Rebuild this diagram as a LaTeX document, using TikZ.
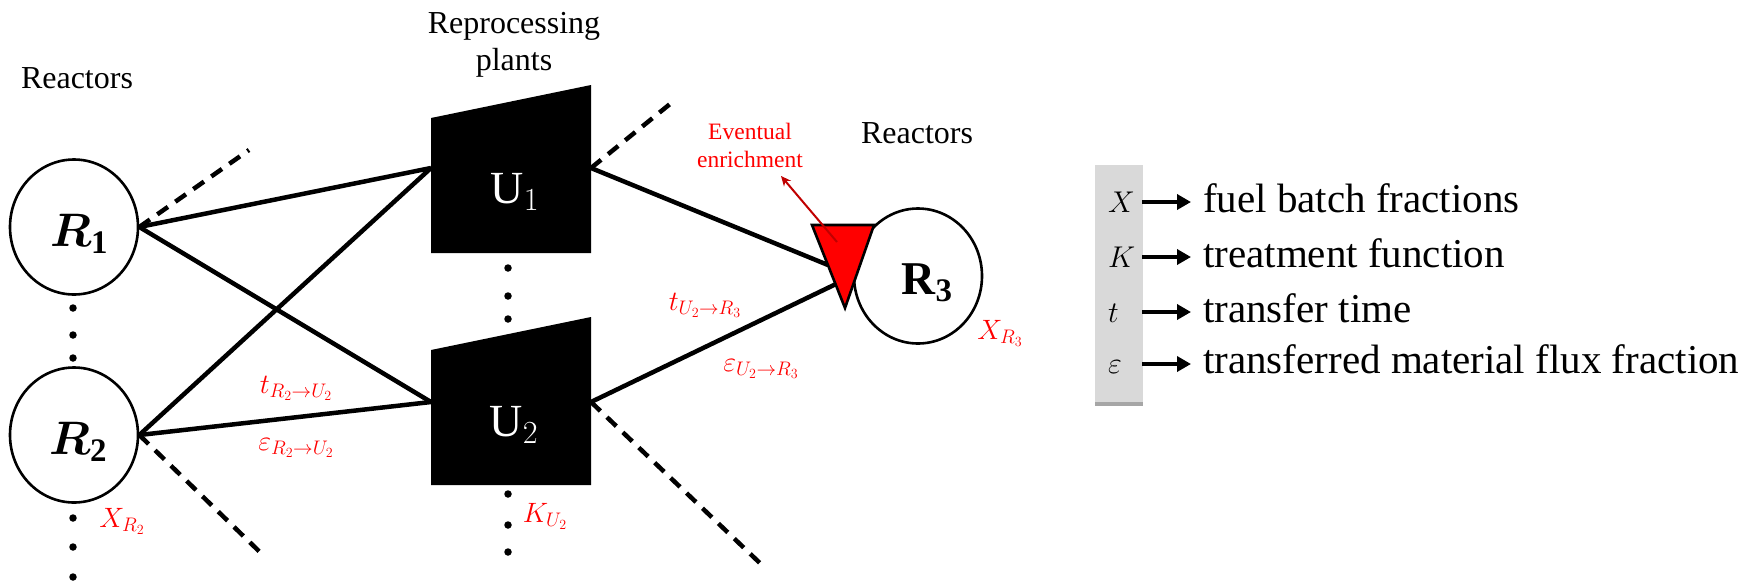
\documentclass[tikz,border=0pt]{standalone}
\usepackage{fix-cm}
\usepackage{fontspec}
\setmainfont{Liberation Serif}
\usepackage{bm}
\usetikzlibrary{shapes.geometric,arrows.meta,shadows}
\definecolor{darkred}{RGB}{192,0,0}
\definecolor{legendgray}{RGB}{217,217,217}
\begin{document}
\begin{tikzpicture}[x=1pt,y=-1pt,
  reactor/.style={ellipse, draw, line width=2.6pt, minimum width=128pt, minimum height=135pt, inner sep=0pt},
  rlab/.style={inner sep=0pt, font=\fontsize{47}{50}\selectfont},
  ulab/.style={inner sep=0pt, text=white, font=\fontsize{46}{50}\selectfont},
  conn/.style={line width=4.5pt},
  dashconn/.style={line width=4.5pt, dash pattern=on 13pt off 9pt},
  dotmark/.style={circle, fill=black, inner sep=0pt, minimum size=7.5pt},
  redlab/.style={inner sep=0pt, text=red, font=\fontsize{28}{30}\selectfont},
  titletext/.style={inner sep=0pt, anchor=base, font=\fontsize{32}{37}\selectfont},
  evtext/.style={inner sep=0pt, anchor=base, text=red, font=\fontsize{23.5}{26}\selectfont},
  legsym/.style={inner sep=0pt, anchor=base west, font=\fontsize{30}{32}\selectfont},
  legtext/.style={inner sep=0pt, anchor=base west, font=\fontsize{41}{44}\selectfont},
  legarrow/.style={line width=4.5pt, -{Triangle[length=14pt,width=15pt]}}
]
\useasboundingbox (0,0) rectangle (1745,582);

% titles
\node[titletext] (reacL) at (77,88) {Reactors};
\node[titletext] (rep1) at (514,33) {Reprocessing};
\node[titletext] (rep2) at (514,70.5) {plants};
\node[titletext] (reacR) at (917,143) {Reactors};
\node[evtext] (ev1) at (750,139) {Eventual};
\node[evtext] (ev2) at (750,167) {enrichment};

% reactors
\node[reactor] (R1) at (74,227) {};
\node[reactor] (R2) at (74,435) {};
\node[reactor] (R3) at (918,276) {};
\node[rlab] (R1t) at (79,234) {$\bm{R}_{\mathbf{1}}$};
\node[rlab] (R2t) at (78,442) {$\bm{R}_{\mathbf{2}}$};
\node[rlab] (R3t) at (927,283) {$\mathbf{R}_{\mathbf{3}}$};

% plants
\fill[black] (431,118) -- (591,85) -- (591,253) -- (431,253) -- cycle;
\fill[black] (431,350) -- (591,317) -- (591,485) -- (431,485) -- cycle;
\node[ulab] (U1) at (515,192) {$\mathrm{U}_1$};
\node[ulab] (U2) at (514,425) {$\mathrm{U}_2$};
\coordinate (U1w) at (431,168);
\coordinate (U1e) at (591,168);
\coordinate (U2w) at (431,402);
\coordinate (U2e) at (591,402);

% triangle ports
\coordinate (Ta) at (812,225);
\coordinate (Tb) at (874,225);
\coordinate (Tc) at (845,308);
\coordinate (T1) at (828,265);
\coordinate (T2) at (836,284);

% solid connectors
\draw[conn] (R1.east) -- (U1w);
\draw[conn] (R1.east) -- (U2w);
\draw[conn] (R2.east) -- (U1w);
\draw[conn] (R2.east) -- (U2w);
\draw[conn] (U1e) -- (T1);
\draw[conn] (U2e) -- (T2);

% dashed stubs
\coordinate (d1) at (249,150);
\coordinate (d2) at (265,557);
\coordinate (d3) at (670,104);
\coordinate (d4) at (763,566);
\draw[dashconn] (R1.east) -- (d1);
\draw[dashconn] (R2.east) -- (d2);
\draw[dashconn] (U1e) -- (d3);
\draw[dashconn] (U2e) -- (d4);

% enrichment triangle
\filldraw[fill=red, draw=black, line width=2.6pt, line join=miter] (Ta) -- (Tb) -- (Tc) -- cycle;
\coordinate (ea) at (837,242);
\coordinate (eb) at (781,176);
\draw[darkred, line width=2pt, -{Stealth[length=10pt,width=9pt]}] (ea) -- (eb);

% dots
\foreach \yy [count=\i] in {308,335,358,518,547,577} {
  \node[dotmark] (dl\i) at (73,\yy) {};
}
\foreach \yy [count=\i] in {268,296,319,494,525,552} {
  \node[dotmark] (du\i) at (508,\yy) {};
}

% red labels
\node[redlab] (tR) at (296,388) {$t_{R_2\to U_2}$};
\node[redlab] (eR) at (296,448) {$\varepsilon_{R_2\to U_2}$};
\node[redlab] (tU) at (705,305) {$t_{U_2\to R_3}$};
\node[redlab] (eU) at (761,369) {$\varepsilon_{U_2\to R_3}$};
\node[redlab] (XR2) at (122,521) {$X_{R_2}$};
\node[redlab] (KU2) at (545,516) {$K_{U_2}$};
\node[redlab] (XR3) at (1000,333) {$X_{R_3}$};

% legend
\fill[legendgray, drop shadow={shadow xshift=0pt, shadow yshift=-4pt, fill=black, opacity=0.35}] (1095,165) rectangle (1143,402);
\node[legsym] (lX) at (1108,212) {$X$};
\node[legsym] (lK) at (1108,267) {$K$};
\node[legsym] (lt) at (1108,322) {$t$};
\node[legsym] (le) at (1108,373) {$\varepsilon$};
\node[legtext] (tX) at (1203,212) {fuel batch fractions};
\node[legtext] (tK) at (1203,267) {treatment function};
\node[legtext] (tt) at (1203,322) {transfer time};
\node[legtext] (te) at (1203,373) {transferred material flux fraction};
\coordinate (a1) at (1142,202); \coordinate (b1) at (1191,202);
\coordinate (a2) at (1142,257); \coordinate (b2) at (1191,257);
\coordinate (a3) at (1142,312); \coordinate (b3) at (1191,312);
\coordinate (a4) at (1142,364); \coordinate (b4) at (1191,364);
\draw[legarrow] (a1) -- (b1);
\draw[legarrow] (a2) -- (b2);
\draw[legarrow] (a3) -- (b3);
\draw[legarrow] (a4) -- (b4);
\end{tikzpicture}
\end{document}
